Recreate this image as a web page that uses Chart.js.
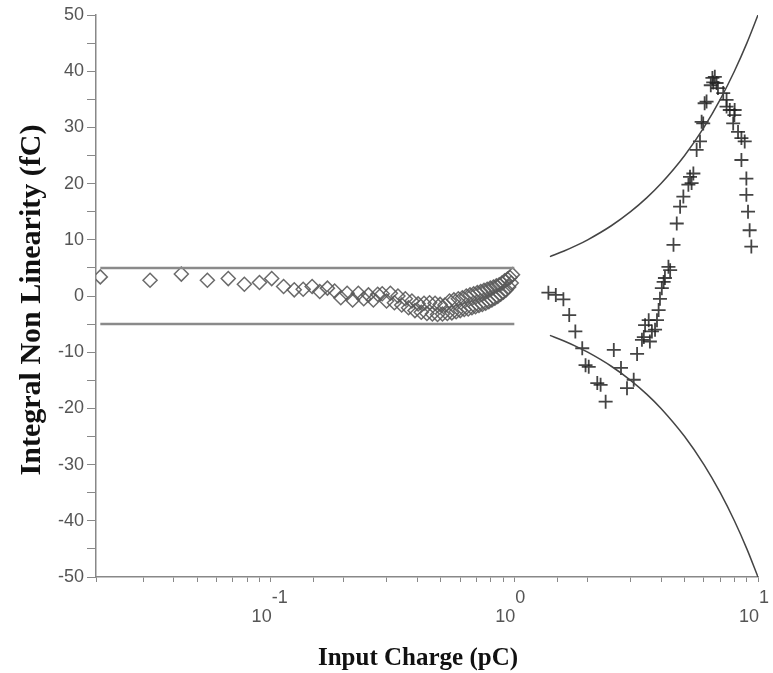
<!DOCTYPE html>
<html>
<head>
<meta charset="utf-8">
<script src="https://cdn.jsdelivr.net/npm/chart.js@4/dist/chart.umd.min.js"></script>
<style>
  html, body { margin: 0; padding: 0; background: #fff; }
  #c { display: block; }
</style>
</head>
<body>
<canvas id="c" width="773" height="673" style="width:773px;height:673px"></canvas>
<script>
// ---- Data ----
const xTitle = 'Input Charge (pC)';
const yTitle = 'Integral Non Linearity (fC)';
const xTickExponents = [-1, 0, 1];
const yTickValues = [-50, -40, -30, -20, -10, 0, 10, 20, 30, 40, 50];

// diamonds: low range (pC, fC)
const lowX = [0.020, 0.032, 0.043, 0.055, 0.067, 0.078, 0.090, 0.101, 0.113, 0.125,
  0.136, 0.148, 0.159, 0.171, 0.183, 0.194, 0.206, 0.217, 0.229, 0.241,
  0.252, 0.264, 0.275, 0.287, 0.299, 0.310, 0.322, 0.333, 0.345, 0.357,
  0.368, 0.380, 0.391, 0.403, 0.415, 0.426, 0.438, 0.449, 0.461, 0.473,
  0.484, 0.496, 0.507, 0.519, 0.531, 0.542, 0.554, 0.565, 0.577, 0.589,
  0.600, 0.612, 0.623, 0.635, 0.647, 0.658, 0.670, 0.681, 0.693, 0.705,
  0.716, 0.728, 0.739, 0.751, 0.763, 0.774, 0.786, 0.797, 0.809, 0.821,
  0.832, 0.844, 0.855, 0.867, 0.879, 0.890, 0.902, 0.913, 0.925, 0.937,
  0.948, 0.960, 0.971, 0.983];
const lowY = [3.4, 2.8, 3.9, 2.8, 3.1, 2.1, 2.4, 3.1, 1.7, 1.1,
  1.2, 1.7, 0.8, 1.4, 0.9, -0.3, 0.5, -0.7, 0.5, -0.5,
  0.2, -0.7, 0.3, 0.4, -0.9, 0.5, -1.2, 0.0, -1.6, -0.5,
  -2.1, -0.9, -2.6, -1.4, -2.9, -1.3, -3.1, -1.2, -3.2, -1.3,
  -3.3, -1.5, -3.2, -1.6, -3.1, -0.9, -3.0, -0.7, -2.8, -0.5,
  -2.6, -0.3, -2.4, 0.0, -2.3, 0.2, -2.1, 0.4, -1.9, 0.6,
  -1.7, 0.8, -1.5, 1.0, -1.3, 1.2, -1.0, 1.4, -0.7, 1.6,
  -0.4, 1.8, -0.1, 2.0, 0.3, 2.3, 0.7, 2.7, 1.1, 3.0,
  1.6, 3.3, 2.3, 3.8];

// crosses: high range (pC, fC)
const highX = [1.38, 1.48, 1.59, 1.68, 1.78, 1.90, 1.96, 2.02, 2.19, 2.26,
  2.37, 2.56, 2.74, 2.90, 3.09, 3.19, 3.34, 3.40, 3.44, 3.56,
  3.60, 3.67, 3.78, 3.85, 3.91, 3.96, 4.03, 4.10, 4.15, 4.29,
  4.36, 4.50, 4.64, 4.79, 4.94, 5.18, 5.26, 5.34, 5.43, 5.60,
  5.78, 5.87, 5.96, 6.04, 6.15, 6.40, 6.50, 6.55, 6.65, 6.76,
  6.85, 7.20, 7.43, 7.43, 7.66, 7.91, 8.02, 8.00, 8.28, 8.55,
  8.82, 8.55, 8.96, 8.96, 9.10, 9.24, 9.39];
const highY = [0.6, 0.2, -0.6, -3.4, -6.3, -9.3, -12.3, -12.6, -15.5, -15.8,
  -18.8, -9.6, -12.8, -16.4, -14.9, -10.3, -7.8, -7.3, -5.2, -4.3,
  -8.1, -6.3, -6.0, -4.3, -2.5, -0.5, 1.4, 2.5, 3.2, 5.2,
  4.6, 9.1, 12.9, 15.9, 17.7, 19.8, 21.2, 20.1, 21.8, 26.0,
  27.5, 31.0, 30.7, 34.3, 34.6, 37.5, 38.8, 38.0, 39.0, 37.9,
  37.0, 36.1, 34.9, 33.7, 33.1, 30.7, 33.1, 32.2, 29.2, 28.1,
  27.5, 24.2, 20.9, 18.0, 15.0, 11.7, 8.8];

// limit lines
const flatX = [0.02, 1.0];
const flatUpper = [5, 5];
const flatLower = [-5, -5];
const curveX = [1.4, 1.6, 1.8, 2, 2.5, 3, 3.5, 4, 5, 6, 7, 8, 9, 10];
const curveUpper = [7, 8, 9, 10, 12.5, 15, 17.5, 20, 25, 30, 35, 40, 45, 50];
const curveLower = [-7, -8, -9, -10, -12.5, -15, -17.5, -20, -25, -30, -35, -40, -45, -50];

const pts = (xs, ys) => xs.map((x, i) => ({ x: x, y: ys[i] }));

const labelPlugin = {
  id: 'customLabels',
  afterDraw(chart) {
    const { ctx, scales } = chart;
    const x = scales.x;
    ctx.save();
    ctx.fillStyle = '#555';
    ctx.font = '18px "Liberation Sans", Arial, sans-serif';
    ctx.textBaseline = 'middle';
    xTickExponents.forEach(e => {
      const px = x.getPixelForValue(Math.pow(10, e));
      ctx.textAlign = 'right';
      ctx.fillText('10', px + 1, 617);
      ctx.textAlign = 'left';
      ctx.fillText(String(e), px + 1, 598);
    });
    ctx.fillStyle = '#111';
    ctx.textAlign = 'center';
    ctx.textBaseline = 'middle';
    ctx.font = 'bold 25px "Liberation Serif", "Times New Roman", serif';
    ctx.fillText(xTitle, 418, 659);
    ctx.translate(32, 300);
    ctx.rotate(-Math.PI / 2);
    ctx.font = 'bold 30px "Liberation Serif", "Times New Roman", serif';
    ctx.fillText(yTitle, 0, 0);
    ctx.restore();
  }
};

new Chart(document.getElementById('c'), {
  type: 'scatter',
  data: {
    datasets: [
      { data: pts(flatX, flatUpper), showLine: true, pointRadius: 0, borderColor: '#8a8a8a', borderWidth: 2.5 },
      { data: pts(flatX, flatLower), showLine: true, pointRadius: 0, borderColor: '#8a8a8a', borderWidth: 2.5 },
      { data: pts(curveX, curveUpper), showLine: true, pointRadius: 0, borderColor: '#444', borderWidth: 1.5, cubicInterpolationMode: 'monotone' },
      { data: pts(curveX, curveLower), showLine: true, pointRadius: 0, borderColor: '#444', borderWidth: 1.5, cubicInterpolationMode: 'monotone' },
      { data: pts(lowX, lowY), pointStyle: 'rectRot', pointRadius: 7, pointBorderWidth: 1.5,
        pointBorderColor: 'rgba(90,90,90,0.9)', pointBackgroundColor: 'rgba(255,255,255,0)' },
      { data: pts(highX, highY), pointStyle: 'cross', pointRadius: 7, pointBorderWidth: 1.8,
        pointBorderColor: 'rgba(35,35,35,0.85)', pointBackgroundColor: 'rgba(0,0,0,0)' }
    ]
  },
  options: {
    responsive: false,
    animation: false,
    events: [],
    layout: { padding: { top: 15, right: 15, left: 0, bottom: 0 } },
    plugins: { legend: { display: false }, tooltip: { enabled: false } },
    scales: {
      x: {
        type: 'logarithmic',
        min: 0.0192,
        max: 10,
        afterFit(s) { s.height = 96; },
        grid: { drawOnChartArea: false, drawTicks: true, tickLength: 5, color: '#888', lineWidth: 1 },
        border: { display: true, color: '#888', width: 1.5 },
        ticks: { autoSkip: false, maxRotation: 0, callback: () => '' }
      },
      y: {
        type: 'linear',
        min: -50,
        max: 50,
        afterFit(s) { s.width = 96; },
        grid: { drawOnChartArea: false, drawTicks: true, tickLength: 9, color: '#888', lineWidth: 1 },
        border: { display: true, color: '#888', width: 1.5 },
        ticks: {
          stepSize: 5,
          autoSkip: false,
          padding: 3,
          color: '#555',
          font: { family: '"Liberation Sans", Arial, sans-serif', size: 18 },
          callback: v => (yTickValues.includes(v) ? String(v) : '')
        }
      }
    }
  },
  plugins: [labelPlugin]
});
</script>
</body>
</html>
